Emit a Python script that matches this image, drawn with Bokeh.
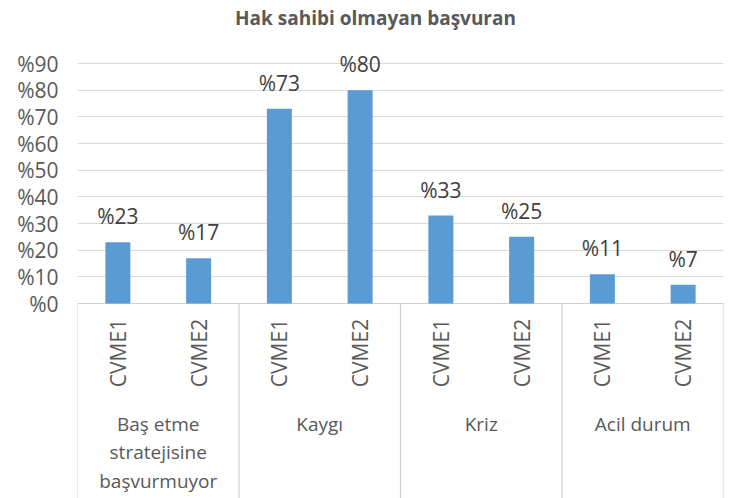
from bokeh.plotting import figure
from bokeh.models import ColumnDataSource, FixedTicker, Range1d, Label
from bokeh.core.properties import value
from bokeh.embed import file_html
from bokeh.resources import INLINE

# ---- data ----
title_text = "Hak sahibi olmayan başvuran"
groups = ["Baş etme\nstratejisine\nbaşvurmuyor", "Kaygı", "Kriz", "Acil durum"]
series = ["CVME1", "CVME2"]
cvme1 = [23, 73, 33, 11]
cvme2 = [17, 80, 25, 7]
y_ticks = [0, 10, 20, 30, 40, 50, 60, 70, 80, 90]

FONT = "Open Sans"
BAR = "#5B9BD5"
GRID = "#D9D9D9"
SEP = "#D0D0D0"

W, H = 741, 498
LEFT, RIGHT = 77, 723      # plot area in page pixels
ZERO_Y, TOP90_Y = 303, 63  # page pixel rows of %0 and %90

# ---- build source ----
xs, vals, labs, names = [], [], [], []
for gi, g in enumerate(groups):
    for si, (s, arr) in enumerate(zip(series, [cvme1, cvme2])):
        xs.append(gi + (si + 0.5) / len(series))
        vals.append(arr[gi])
        labs.append(f"%{arr[gi]}")
        names.append(s)
src = ColumnDataSource(dict(x=xs, top=vals, lab=labs, name=names))

ppu = (ZERO_Y - TOP90_Y) / 90.0
y_start = -(H - ZERO_Y) / ppu
y_end = ZERO_Y / ppu
gpx = (RIGHT - LEFT) / len(groups)

def yd(py):
    return (ZERO_Y - py) / ppu

p = figure(width=W, height=H, output_backend="svg", toolbar_location=None,
           x_range=Range1d(0, len(groups)), y_range=Range1d(y_start, y_end),
           x_axis_location=None, min_border_left=LEFT, min_border_right=W - RIGHT,
           min_border_top=0, min_border_bottom=0)
p.outline_line_color = None
p.xgrid.visible = False
p.ygrid.ticker = FixedTicker(ticks=y_ticks[1:])
p.ygrid.grid_line_color = GRID
p.ygrid.grid_line_width = 1

ax = p.yaxis[0]
ax.ticker = FixedTicker(ticks=y_ticks)
ax.major_label_overrides = {t: f"%{t}" for t in y_ticks}
ax.axis_line_color = None
ax.major_tick_line_color = None
ax.minor_tick_line_color = None
ax.major_tick_out = 0
ax.major_tick_in = 0
ax.major_label_standoff = 19
ax.major_label_text_font = FONT
ax.major_label_text_font_size = "21px"
ax.major_label_text_color = "#595959"

# category axis line and separators
p.segment(x0=[0], y0=[0], x1=[len(groups)], y1=[0], line_color=SEP, line_width=1.2)
sep_x = list(range(len(groups) + 1))
p.segment(x0=sep_x, y0=[0] * len(sep_x), x1=sep_x, y1=[y_start] * len(sep_x),
          line_color=SEP, line_width=1.2)

# bars
p.vbar(x="x", top="top", bottom=0, width=25 / gpx, source=src, fill_color=BAR, line_color=None)

# data labels
p.text(x="x", y="top", text="lab", source=src, text_align="center", text_baseline="alphabetic",
       y_offset=-26, text_font=value(FONT), text_font_size="21px", text_color="#404040")

# sub-category labels (rotated)
p.text(x="x", y=yd(352.5), text="name", source=src, angle=1.5708, text_align="center",
       text_baseline="middle", text_font=value(FONT), text_font_size="21px", text_color="#595959")

# group labels
grp_src = ColumnDataSource(dict(x=[i + 0.5 for i in range(len(groups))], g=groups))
p.text(x="x", y=yd(410), text="g", source=grp_src, text_align="center", text_baseline="top",
       text_line_height=1.1, text_font=value(FONT), text_font_size="19px", text_color="#595959")

# title
p.add_layout(Label(x=(375 - LEFT) / gpx, y=yd(17), text=title_text,
                   text_align="center", text_baseline="middle", text_font=FONT,
                   text_font_size="19px", text_font_style="bold", text_color="#595959"))

open("out.html", "w").write(file_html(p, INLINE))
